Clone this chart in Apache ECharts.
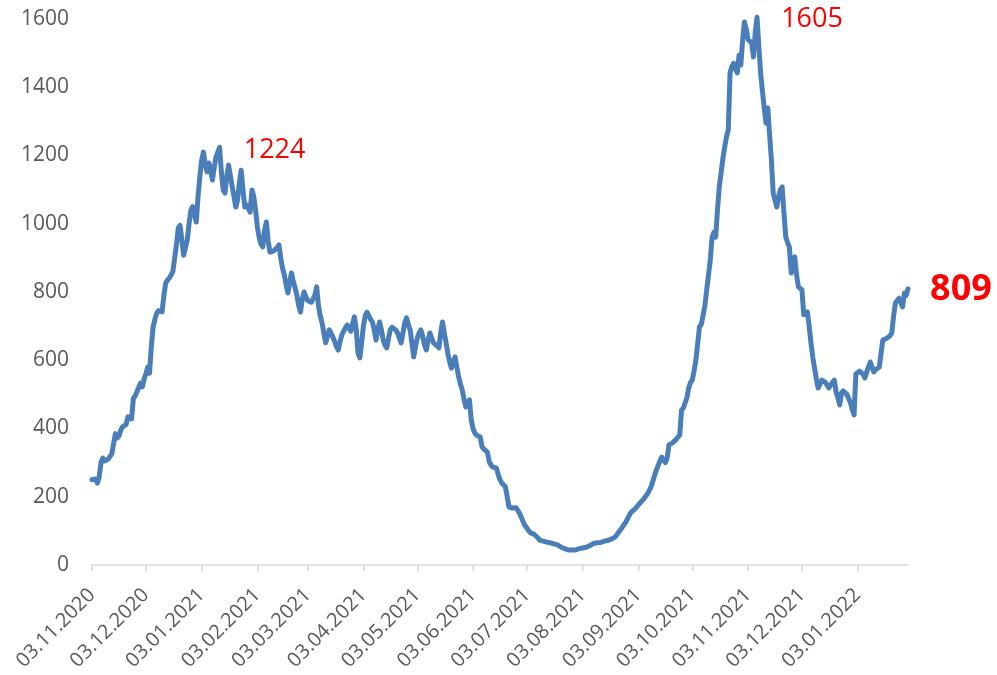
<!DOCTYPE html>
<html>
<head>
<meta charset="utf-8">
<title>chart</title>
<script src="https://cdn.jsdelivr.net/npm/echarts@6/dist/echarts.min.js"></script>
<style>
    html, body { margin: 0; padding: 0; background: #fff; }
    #chart { width: 997px; height: 675px; }
</style>
</head>
<body>
<div id="chart"></div>
<script>
// daily values, one array per month, first day 03.11.2020
var startDate = [2020, 10, 3];
var nov2020 = [250, 248, 252, 240, 258, 300, 313, 305, 302, 310, 318, 325, 330, 385, 372, 378, 395, 405, 408, 412, 434, 430, 428, 488, 495, 498, 520, 533, 522, 545];
var dec2020 = [560, 580, 562, 640, 698, 720, 738, 745, 740, 742, 790, 826, 835, 841, 850, 860, 865, 940, 987, 995, 991, 908, 930, 952, 1000, 1040, 1050, 1055, 1005, 1080, 1137];
var jan2021 = [1185, 1210, 1175, 1152, 1178, 1160, 1128, 1165, 1196, 1210, 1224, 1150, 1099, 1090, 1140, 1172, 1140, 1108, 1080, 1049, 1070, 1120, 1157, 1100, 1049, 1055, 1045, 1034, 1099, 1080, 1040];
var feb2021 = [991, 960, 940, 932, 980, 1005, 950, 917, 915, 920, 923, 930, 938, 900, 870, 850, 820, 797, 830, 856, 830, 812, 790, 760, 741, 780, 800, 785];
var mar2021 = [775, 777, 770, 768, 790, 815, 760, 730, 709, 680, 651, 670, 689, 680, 668, 655, 640, 630, 655, 674, 685, 695, 703, 695, 685, 680, 727, 690, 621, 607, 650];
var apr2021 = [700, 730, 741, 730, 720, 712, 690, 659, 690, 712, 690, 659, 645, 636, 665, 690, 697, 692, 689, 680, 665, 651, 680, 710, 724, 705, 689, 650, 610, 640];
var may2021 = [665, 680, 689, 670, 645, 630, 660, 680, 665, 651, 648, 642, 636, 680, 712, 680, 651, 620, 595, 577, 595, 610, 580, 551, 530, 513, 485, 463, 478, 484, 425];
var jun2021 = [400, 387, 380, 378, 375, 346, 340, 335, 331, 303, 293, 287, 286, 284, 265, 250, 240, 235, 229, 200, 170, 168, 167, 170, 168, 167, 150, 138, 125, 115];
var jul2021 = [108, 100, 94, 92, 90, 88, 80, 73, 72, 70, 68, 67, 66, 65, 64, 62, 60, 59, 55, 52, 50, 48, 46, 44, 45, 44, 43, 44, 46, 48, 49];
var aug2021 = [50, 51, 52, 53, 57, 62, 63, 64, 65, 64, 66, 67, 70, 71, 72, 73, 76, 79, 82, 88, 96, 103, 110, 118, 126, 136, 146, 155, 160, 164, 167];
var sep2021 = [176, 182, 188, 194, 199, 208, 218, 229, 245, 262, 278, 292, 305, 316, 318, 300, 313, 352, 355, 358, 360, 368, 375, 381, 454, 460, 463, 490, 519, 535];
var oct2021 = [542, 570, 601, 650, 698, 705, 709, 760, 806, 850, 894, 961, 975, 961, 1040, 1108, 1149, 1190, 1225, 1254, 1275, 1442, 1460, 1470, 1465, 1442, 1494, 1465, 1540, 1591, 1570];
var nov2021 = [1540, 1535, 1530, 1489, 1560, 1605, 1520, 1442, 1390, 1340, 1295, 1339, 1260, 1187, 1090, 1070, 1049, 1080, 1100, 1108, 1030, 961, 945, 932, 856, 880, 903, 850, 815, 810];
var dec2021 = [806, 733, 738, 742, 700, 651, 610, 577, 545, 519, 530, 542, 538, 535, 533, 519, 528, 535, 542, 507, 490, 469, 504, 510, 513, 500, 488, 475, 455, 440, 560];
var jan2022 = [565, 568, 571, 560, 548, 565, 580, 595, 580, 566, 572, 576, 580, 620, 659, 662, 664, 665, 672, 680, 730, 768, 775, 782, 770, 756, 797, 790, 809];

// red notes on the chart
var noteDates = ['13.01.2021', '08.11.2021', '31.01.2022'];
var noteValues = [1224, 1605, 809];

var yTicks = [0, 200, 400, 600, 800, 1000, 1200, 1400, 1600];

(function () {
    var values = [].concat(nov2020, dec2020, jan2021, feb2021, mar2021, apr2021, may2021,
        jun2021, jul2021, aug2021, sep2021, oct2021, nov2021, dec2021, jan2022);
    var yMax = yTicks[yTicks.length - 1];

    var pad = function (n) { return n < 10 ? '0' + n : '' + n; };
    var dates = [];
    var t0 = Date.UTC(startDate[0], startDate[1], startDate[2]);
    for (var i = 0; i < values.length; i++) {
        var d = new Date(t0 + i * 86400000);
        dates.push(pad(d.getUTCDate()) + '.' + pad(d.getUTCMonth() + 1) + '.' + d.getUTCFullYear());
    }

    // labels and ticks only on the 3rd of each month
    var onThird = function (index, value) {
        return dates[index].substr(0, 3) === '03.';
    };

    var noteStyles = [
        { offset: [55, 3], fontSize: 27, fontWeight: 'normal' },
        { offset: [55, 0], fontSize: 27, fontWeight: 'normal' },
        { offset: [53, 1], fontSize: 36, fontWeight: 'bold' }
    ];
    var notes = [];
    for (var k = 0; k < noteDates.length; k++) {
        notes.push({
            // peak is above the axis max, keep the marker inside the range
            coord: [noteDates[k], Math.min(noteValues[k], yMax)],
            value: noteValues[k],
            label: {
                offset: noteStyles[k].offset,
                fontSize: noteStyles[k].fontSize,
                fontWeight: noteStyles[k].fontWeight
            }
        });
    }

    var chart = echarts.init(document.getElementById('chart'));
    chart.setOption({
        animation: false,
        textStyle: { fontFamily: 'Open Sans' },
        grid: { left: 92, right: 89, top: 19, bottom: 110 },
        xAxis: {
            type: 'category',
            boundaryGap: false,
            data: dates,
            axisLine: { lineStyle: { color: '#d9d9d9', width: 1.5 } },
            axisTick: { interval: onThird, length: 6, lineStyle: { color: '#d9d9d9', width: 1.5 } },
            axisLabel: {
                interval: onThird,
                rotate: 45,
                margin: 27,
                color: '#595959',
                fontSize: 20,
                fontFamily: 'Open Sans'
            },
            splitLine: { show: false }
        },
        yAxis: {
            type: 'value',
            min: yTicks[0],
            max: yMax,
            interval: yTicks[1] - yTicks[0],
            axisLine: { show: false },
            axisTick: { show: false },
            splitLine: { show: false },
            axisLabel: {
                margin: 23,
                color: '#595959',
                fontSize: 21,
                fontFamily: 'Open Sans',
                formatter: function (v) { return String(v); }
            }
        },
        series: [{
            type: 'line',
            data: values,
            showSymbol: false,
            symbol: 'none',
            clip: false,
            lineStyle: { color: '#4a7ebb', width: 5, join: 'round', cap: 'round' },
            markPoint: {
                symbol: 'circle',
                symbolSize: 0,
                silent: true,
                label: {
                    show: true,
                    position: 'inside',
                    color: '#ff0000',
                    fontFamily: 'Open Sans',
                    formatter: '{c}'
                },
                data: notes
            }
        }]
    });
})();
</script>
</body>
</html>
